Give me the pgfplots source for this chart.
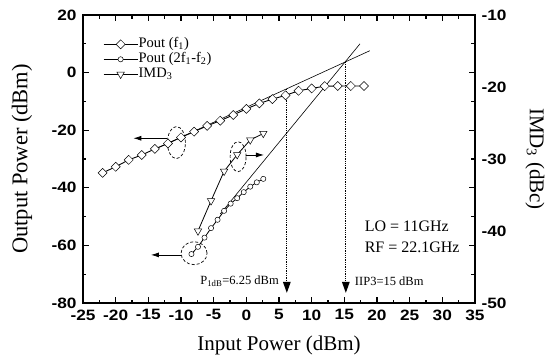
\documentclass[border=0pt]{standalone}
\usepackage{fontspec}
\setmainfont{Liberation Serif}
\setsansfont{Liberation Sans}
\newfontfamily\tickfont{Liberation Sans}[FakeStretch=1.15]
\usepackage{pgfplots}
\pgfplotsset{compat=1.18}
\usetikzlibrary{arrows.meta}
\newcommand{\legfont}{\fontsize{14.5}{14.5}\selectfont}
\begin{document}
\begin{tikzpicture}
\begin{axis}[
  at={(0,0)}, anchor=south west,
  scale only axis, width=392pt, height=288pt,
  xmin=-25, xmax=35, ymin=-80, ymax=20,
  xtick={-25,-20,...,35}, ytick={-80,-60,...,20},
  minor x tick num=1, minor y tick num=1,
  tick align=inside,
  major tick length=6pt, minor tick length=3.5pt,
  every tick/.style={black, line width=1.1pt},
  axis line style={line width=1.3pt},
  ticklabel style={font=\fontsize{15}{15}\selectfont\tickfont\bfseries},
  /pgf/number format/assume math mode=true,
  xticklabel style={yshift=-3pt},
  yticklabel style={xshift=-3pt},
  xlabel={Input Power (dBm)},
  ylabel={Output Power (dBm)},
  xlabel style={font=\fontsize{21}{21}\selectfont, at={(axis description cs:0.5,-0.1458)}, anchor=center},
  ylabel style={font=\fontsize{22.5}{22.5}\selectfont, at={(axis description cs:-0.1556,0.5)}, anchor=center},
  clip=false,
  legend style={draw=none, fill=none, at={(axis description cs:0.051,0.925)}, anchor=north west,
    inner sep=0pt, row sep=0pt, font=\legfont,
    nodes={inner sep=0.5pt, text height=10.5pt, text depth=3.5pt}},
  legend cell align=left,
  legend image code/.code={\draw[mark repeat=2,mark phase=2,#1] plot coordinates {(0pt,0pt) (17pt,0pt) (34pt,0pt)};},
]
\addplot[black, line width=0.9pt, mark=square*, mark size=3.2pt, mark options={rotate=45, fill=white, line width=0.5pt, solid}] coordinates {
(-22,-34.8) (-20,-32.7) (-18,-30.3) (-16,-28.6) (-14,-26.5) (-12,-24.6) (-10,-22.5)
(-8,-20.5) (-6,-18.5) (-4,-16.7) (-2,-14.7) (0,-12.6) (2,-10.7) (4,-9.2)
(6,-7.9) (8,-6.3) (10,-5.5) (12,-4.7) (14,-4.65) (16,-4.65) (18,-4.65)};
\addlegendentry{\legfont Pout (f\textsubscript{1})}
\addplot[black, line width=0.8pt, mark=*, mark size=2.6pt, mark options={fill=white, line width=0.5pt}] coordinates {
(-8.4,-63.0) (-7.4,-60.5) (-6.4,-57.3) (-5.4,-54.0) (-4.4,-51.1) (-3.4,-48.0)
(-2.4,-45.5) (-1.4,-43.6) (-0.4,-41.5) (0.6,-39.6) (1.6,-38.1) (2.6,-36.9)};
\addlegendentry{\legfont Pout (2f\textsubscript{1}-f\textsubscript{2})}
\addlegendimage{black, line width=0.8pt, mark=triangle*, mark size=4.3pt, mark options={rotate=180, fill=white, line width=0.5pt}}
\addlegendentry{\legfont IMD\textsubscript{3}}
% extrapolation lines
\addplot[black, line width=0.6pt, forget plot] coordinates {(-14,-26.6) (18.9,7.6)};
\addplot[black, line width=0.6pt, forget plot] coordinates {(-4,-49.1) (17.4,10.0)};
% vertical dotted arrows
\draw[line width=1.3pt, densely dotted, -{Triangle[length=11pt,width=7.5pt]}] (axis cs:6.2,-5.6) -- (axis cs:6.2,-76.5);
\draw[line width=1.3pt, densely dotted, -{Triangle[length=11pt,width=7.5pt]}] (axis cs:15.23,3.8) -- (axis cs:15.23,-76.5);
% ellipses and arrows
\draw[dash pattern=on 3pt off 2pt, line width=0.7pt] (axis cs:-10.7,-24.3) ellipse [x radius=9pt, y radius=16pt];
\draw[dash pattern=on 3pt off 2pt, line width=0.7pt] (axis cs:-1.26,-29.2) ellipse [x radius=8pt, y radius=15pt];
\draw[dash pattern=on 3pt off 2pt, line width=0.7pt] (axis cs:-8.0,-62.7) ellipse [x radius=13pt, y radius=11.5pt];
\draw[line width=0.8pt, -{Latex[length=8pt,width=5pt]}] (axis cs:-12.1,-22.8) -- (axis cs:-17.3,-22.8);
\draw[line width=0.8pt, -{Latex[length=8pt,width=5pt]}] (axis cs:-0.05,-28.6) -- (axis cs:2.7,-28.6);
\draw[line width=0.8pt, -{Latex[length=8pt,width=5pt]}] (axis cs:-10.0,-63.3) -- (axis cs:-14.6,-63.3);
% texts
\node[anchor=east, font=\fontsize{12.5}{13}\selectfont, inner sep=0pt] at (axis cs:5.0,-72.4) {P\textsubscript{1dB}=6.25 dBm};
\node[anchor=west, font=\fontsize{12.5}{13}\selectfont, inner sep=0pt] at (axis cs:16.6,-72.4) {IIP3=15 dBm};
\node[anchor=west, align=left, font=\fontsize{16}{20.7}\selectfont, inner sep=0pt] at (axis cs:18.1,-57.1) {LO = 11GHz\\RF = 22.1GHz};
\end{axis}
\begin{axis}[
  at={(0,0)}, anchor=south west,
  scale only axis, width=392pt, height=288pt,
  xmin=-25, xmax=35, ymin=-50, ymax=-10,
  hide x axis, axis y line*=right,
  ytick={-50,-40,...,-10}, major tick length=0pt, minor y tick num=0,
  axis line style={line width=1.3pt},
  ticklabel style={font=\fontsize{15}{15}\selectfont\tickfont\bfseries},
  /pgf/number format/assume math mode=true,
  yticklabel style={xshift=3pt},
  ylabel={IMD\textsubscript{3} (dBc)},
  ylabel style={font=\fontsize{21}{21}\selectfont, at={(axis description cs:1.153,0.5)}, anchor=center, rotate=180},
  clip=false,
]
\addplot[black, line width=0.8pt, mark=triangle*, mark size=4.3pt, mark options={rotate=180, fill=white, line width=0.5pt}] coordinates {
(-7.4,-40.0) (-5.4,-35.8) (-3.4,-31.7) (-1.4,-29.4) (0.6,-27.35) (2.6,-26.45)};
\end{axis}
\pgfresetboundingbox
\path (-83pt,-59pt) rectangle (471pt,303pt);
\end{tikzpicture}
\end{document}
